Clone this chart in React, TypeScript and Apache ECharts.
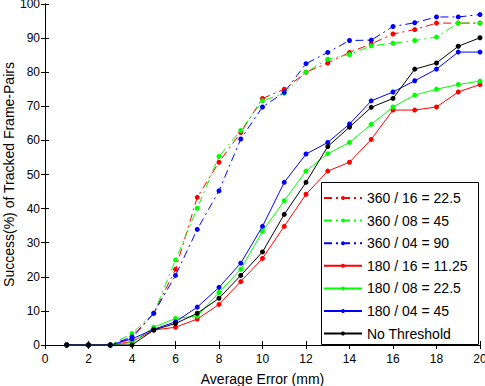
import React, { useEffect, useRef } from "react";
import * as echarts from "echarts";

const xValues = [1, 2, 3, 4, 5, 6, 7, 8, 9, 10, 11, 12, 13, 14, 15, 16, 17, 18, 19, 20];
const seriesNames = [
  "360 / 16 = 22.5",
  "360 / 08 = 45",
  "360 / 04 = 90",
  "180 / 16 = 11.25",
  "180 / 08 = 22.5",
  "180 / 04 = 45",
  "No Threshold",
];
const s360_16 = [0, 0, 0, 2.0, 9.3, 22.2, 43.3, 53.6, 62.3, 72.3, 75.0, 80.0, 82.7, 85.8, 88.3, 91.2, 92.5, 94.4, 94.4, 94.4];
const s360_08 = [0, 0, 0, 3.4, 9.3, 24.9, 40.1, 55.3, 62.9, 71.6, 73.8, 80.0, 83.8, 85.2, 87.7, 88.5, 89.3, 90.3, 94.4, 94.4];
const s360_04 = [0, 0, 0, 2.4, 9.3, 20.4, 33.9, 45.2, 60.4, 69.8, 74.1, 82.5, 85.8, 89.3, 89.4, 93.4, 94.5, 96.2, 96.2, 96.9];
const s180_16 = [0, 0, 0, 1.0, 4.4, 5.2, 7.6, 11.9, 18.6, 25.4, 34.8, 44.2, 51.0, 53.6, 60.3, 68.9, 68.9, 69.8, 74.2, 76.4];
const s180_08 = [0, 0, 0, 0.7, 5.2, 7.8, 8.5, 15.4, 22.2, 33.3, 42.3, 51.0, 56.1, 59.4, 64.7, 69.8, 73.3, 75.0, 76.4, 77.4];
const s180_04 = [0, 0, 0, 1.8, 4.6, 6.8, 11.1, 16.9, 24.0, 34.8, 47.7, 56.0, 59.4, 64.8, 71.6, 74.2, 77.5, 80.9, 85.9, 85.9];
const sNoThr = [0, 0, 0, 0, 4.4, 6.3, 9.3, 13.7, 20.4, 27.3, 38.3, 47.7, 58.2, 63.9, 69.7, 72.3, 80.9, 82.7, 87.6, 90.1];

const seriesValues = [s360_16, s360_08, s360_04, s180_16, s180_08, s180_04, sNoThr];
const seriesColors = ["#ff0000", "#00ff00", "#0000ff", "#ff0000", "#00ff00", "#0000ff", "#000000"];
const dashed = [true, true, true, false, false, false, false];

const FONT = "'Liberation Sans', Arial, Helvetica, sans-serif";

export default function App() {
  const ref = useRef<HTMLDivElement>(null);
  useEffect(() => {
    if (!ref.current) return;
    const chart = echarts.init(ref.current, undefined, { renderer: "svg" });
    const series = seriesNames.map((name, i) => ({
      name,
      type: "line",
      xAxisIndex: 0,
      yAxisIndex: 0,
      data: xValues.map((x, j) => [x, seriesValues[i][j]]),
      symbol: "circle",
      symbolSize: 5,
      showSymbol: true,
      itemStyle: { color: seriesColors[i] },
      lineStyle: {
        color: seriesColors[i],
        width: 1,
        type: dashed[i] ? [8, 4, 2, 4] : "solid",
      },
      emphasis: { disabled: true },
      z: 2 + i,
    }));
    const axisCommon = {
      axisLine: { show: true, lineStyle: { color: "#000", width: 1 } },
      axisTick: { show: true, inside: true, length: 4, lineStyle: { color: "#000" } },
      splitLine: { show: false },
    };
    chart.setOption({
      animation: false,
      backgroundColor: "#fff",
      textStyle: { fontFamily: FONT },
      grid: {
        left: 45,
        right: 5,
        top: 4,
        bottom: 41,
        containLabel: false,
        outerBoundsMode: "none",
      },
      xAxis: [
        {
          type: "value",
          min: 0,
          max: 20,
          interval: 2,
          position: "bottom",
          ...axisCommon,
          axisLabel: { color: "#000", fontSize: 12, fontFamily: FONT, margin: 8 },
          name: "Average Error (mm)",
          nameLocation: "middle",
          nameGap: 27,
          nameMoveOverlap: false,
          nameTextStyle: { color: "#000", fontSize: 14, fontFamily: FONT },
        },
        {
          type: "value",
          min: 0,
          max: 20,
          interval: 2,
          position: "top",
          ...axisCommon,
          axisLabel: { show: false },
        },
      ],
      yAxis: [
        {
          type: "value",
          min: 0,
          max: 100,
          interval: 10,
          position: "left",
          ...axisCommon,
          axisLabel: { color: "#000", fontSize: 12, fontFamily: FONT, margin: 5 },
          name: "Success(%) of Tracked Frame-Pairs",
          nameLocation: "middle",
          nameGap: 29,
          nameMoveOverlap: false,
          nameTextStyle: { color: "#000", fontSize: 14, fontFamily: FONT },
        },
        {
          type: "value",
          min: 0,
          max: 100,
          interval: 10,
          position: "right",
          ...axisCommon,
          axisLabel: { show: false },
        },
      ],
      legend: {
        orient: "vertical",
        left: 323,
        top: 191,
        padding: 0,
        itemWidth: 38,
        itemHeight: 5,
        itemGap: 8.6,
        z: 20,
        selectedMode: false,
        data: seriesNames,
        textStyle: { color: "#000", fontSize: 14, fontFamily: FONT },
      },
      graphic: [
        {
          type: "rect",
          z: 10,
          shape: { x: 321.5, y: 182.5, width: 157, height: 162 },
          style: { fill: "#fff", stroke: "#000", lineWidth: 1 },
        },
      ],
      series,
    });
    return () => chart.dispose();
  }, []);
  return (
    <div
      ref={ref}
      style={{ position: "fixed", left: 0, top: 0, width: 485, height: 386, background: "#fff" }}
    />
  );
}
